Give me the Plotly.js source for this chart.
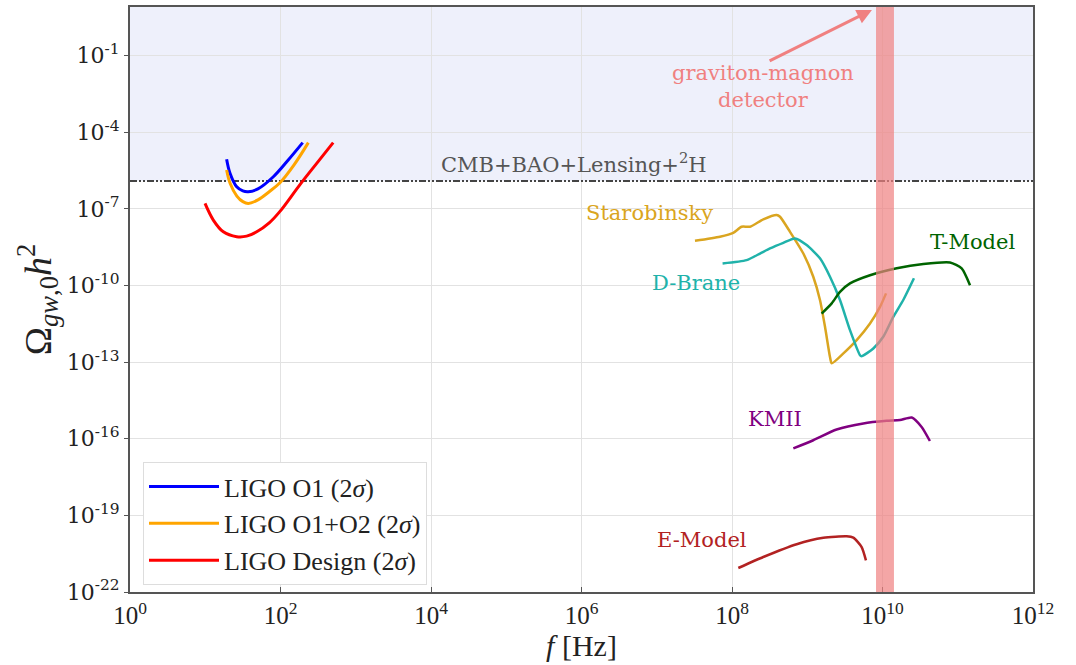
<!DOCTYPE html>
<html>
<head>
<meta charset="utf-8">
<script src="https://cdn.plot.ly/plotly-3.0.1.min.js"></script>
<style>html,body{margin:0;padding:0;background:#fff;}#chart{width:1076px;height:665px;}</style>
</head>
<body>
<div id="chart"></div>
<script>
// ---- data (log10 of frequency in Hz, log10 of Omega_gw h^2) ----
const ligoO1_logf   = [1.284, 1.329, 1.418, 1.50, 1.572, 1.70, 1.905, 2.10, 2.295];
const ligoO1_logO   = [-5.06, -5.61, -6.14, -6.30, -6.33, -6.22, -5.745, -5.10, -4.41];
const ligoO12_logf  = [1.284, 1.33, 1.42, 1.50, 1.572, 1.70, 1.85, 1.993, 2.18, 2.37];
const ligoO12_logO  = [-5.48, -6.0, -6.5, -6.72, -6.79, -6.65, -6.33, -5.98, -5.28, -4.41];
const ligoDes_logf  = [0.997, 1.107, 1.24, 1.418, 1.55, 1.684, 1.85, 1.993, 2.259, 2.481, 2.70];
const ligoDes_logO  = [-6.79, -7.44, -7.9, -8.09, -8.07, -7.9, -7.55, -7.1, -6.05, -5.22, -4.41];

const staro_logf = [7.508, 7.84, 8.017, 8.128, 8.24, 8.416, 8.593, 8.638, 8.771, 8.948, 9.08, 9.169, 9.236, 9.302, 9.325, 9.48, 9.657, 9.834, 9.967, 10.047];
const staro_logO = [-8.25, -8.09, -7.94, -7.70, -7.70, -7.41, -7.24, -7.31, -7.90, -8.75, -9.66, -10.57, -11.62, -12.8, -13.05, -12.66, -12.14, -11.49, -10.84, -10.31];
const dbrane_logf = [7.875, 8.194, 8.372, 8.505, 8.682, 8.837, 8.992, 9.169, 9.302, 9.435, 9.568, 9.701, 9.72, 9.878, 10.01, 10.143, 10.276, 10.418];
const dbrane_logO = [-9.14, -9.01, -8.75, -8.55, -8.33, -8.16, -8.42, -8.94, -9.66, -10.57, -11.75, -12.73, -12.77, -12.47, -12.01, -11.23, -10.57, -9.72];
const tmodel_logf = [9.191, 9.325, 9.435, 9.568, 9.834, 10.189, 10.543, 10.897, 11.052, 11.163];
const tmodel_logO = [-11.1, -10.70, -10.25, -9.92, -9.60, -9.33, -9.16, -9.10, -9.33, -9.99];
const kmii_logf = [8.815, 9.08, 9.39, 9.745, 10.056, 10.233, 10.388, 10.52, 10.63];
const kmii_logO = [-16.38, -16.06, -15.64, -15.40, -15.30, -15.27, -15.17, -15.54, -16.09];
const emodel_logf = [8.084, 8.416, 8.859, 9.214, 9.524, 9.612, 9.723, 9.78];
const emodel_logO = [-21.06, -20.63, -20.13, -19.88, -19.82, -19.87, -20.24, -20.76];

const cmbBound = 1.23e-6;               // CMB+BAO+Lensing+2H upper bound
const cmbFreq  = [1, 1e12];
const detectorBand = [8.2e9, 1.42e10];  // graviton-magnon detector band (Hz)

const xTickVals = [1, 1e2, 1e4, 1e6, 1e8, 1e10, 1e12];
const xTickText = ['0','2','4','6','8','10','12'].map(e => '10<sup>' + e + '</sup>');
const yTickVals = [1e-22, 1e-19, 1e-16, 1e-13, 1e-10, 1e-7, 1e-4, 1e-1];
const yTickText = ['-22','-19','-16','-13','-10','-7','-4','-1'].map(e => '10<sup>' + e + '</sup>');

const p10 = a => a.map(v => Math.pow(10, v));

function curve(lf, lo, color, width, name, legend, smooth) {
  return {x: p10(lf), y: p10(lo), type: 'scatter', mode: 'lines', name: name,
          showlegend: legend, line: {color: color, width: width, shape: 'spline', smoothing: smooth}};
}

const traces = [
  {x: cmbFreq, y: [cmbBound, cmbBound], type: 'scatter', mode: 'lines', showlegend: false,
   line: {color: '#444', width: 2, dash: '7px,2px,2px,2px,2px,2px'}},
  curve(ligoO1_logf, ligoO1_logO, '#0000ff', 3, 'LIGO O1 (2<i>σ</i>)', true, 1),
  curve(ligoO12_logf, ligoO12_logO, '#ffa500', 3, 'LIGO O1+O2 (2<i>σ</i>)', true, 1),
  curve(ligoDes_logf, ligoDes_logO, '#ff0000', 3, 'LIGO Design (2<i>σ</i>)', true, 1),
  curve(staro_logf, staro_logO, '#daa520', 2.5, 'Starobinsky', false, 0.6),
  curve(dbrane_logf, dbrane_logO, '#20b2aa', 2.5, 'D-Brane', false, 0.6),
  curve(tmodel_logf, tmodel_logO, '#006400', 2.5, 'T-Model', false, 0.6),
  curve(kmii_logf, kmii_logO, '#800080', 2.5, 'KMII', false, 0.6),
  curve(emodel_logf, emodel_logO, '#b22222', 2.5, 'E-Model', false, 0.6)
];

const annFont = (c) => ({family: 'DejaVu Serif', size: 21, color: c});
const layout = {
  width: 1076, height: 665,
  margin: {l: 130, r: 43, t: 7, b: 73},
  paper_bgcolor: '#ffffff', plot_bgcolor: '#ffffff',
  showlegend: true,
  legend: {x: 0.0144, y: 0.222, xanchor: 'left', yanchor: 'top',
           bgcolor: '#ffffff', bordercolor: '#dddddd', borderwidth: 1,
           font: {family: 'Liberation Serif', size: 26, color: '#222'},
           tracegroupgap: 0, itemwidth: 70},
  xaxis: {type: 'log', range: [0, 12], tickvals: xTickVals, ticktext: xTickText,
          tickfont: {family: 'Liberation Serif', size: 25, color: '#222'},
          ticks: 'inside', ticklen: 5, tickcolor: '#555',
          showline: true, linecolor: '#555', linewidth: 2, mirror: true,
          showgrid: true, gridcolor: '#e2e2e2', gridwidth: 1, zeroline: false,
          title: {text: '<i>f</i> [Hz]', font: {family: 'Liberation Serif', size: 30, color: '#222'}, standoff: 0}},
  yaxis: {type: 'log', range: [-22, 0.9], tickvals: yTickVals, ticktext: yTickText,
          tickfont: {family: 'DejaVu Serif', size: 22, color: '#222'},
          ticks: 'outside', ticklen: 4, tickcolor: '#555',
          showline: true, linecolor: '#555', linewidth: 2, mirror: true,
          showgrid: true, gridcolor: '#e2e2e2', gridwidth: 1, zeroline: false,
          title: {text: 'Ω<sub><i>gw</i>,0</sub><i>h</i><sup>2</sup>', font: {family: 'Liberation Serif', size: 38, color: '#222'}, standoff: 4}},
  shapes: [
    {type: 'rect', xref: 'paper', yref: 'y', x0: 0, x1: 1, y0: cmbBound, y1: Math.pow(10, 0.9),
     fillcolor: '#eef0fb', line: {width: 0}, layer: 'below'},
    {type: 'rect', xref: 'x', yref: 'paper', x0: detectorBand[0], x1: detectorBand[1], y0: 0, y1: 1,
     fillcolor: 'rgba(240,128,128,0.7)', line: {width: 0}, layer: 'above'}
  ],
  annotations: [
    {x: 6.91, y: -7.15, xref: 'x', yref: 'y', text: 'Starobinsky', showarrow: false, font: annFont('#daa520')},
    {x: 7.52, y: -9.91, xref: 'x', yref: 'y', text: 'D-Brane', showarrow: false, font: annFont('#20b2aa')},
    {x: 11.2, y: -8.3, xref: 'x', yref: 'y', text: 'T-Model', showarrow: false, font: annFont('#006400')},
    {x: 8.57, y: -15.22, xref: 'x', yref: 'y', text: 'KMII', showarrow: false, font: annFont('#800080')},
    {x: 7.60, y: -19.98, xref: 'x', yref: 'y', text: 'E-Model', showarrow: false, font: annFont('#b22222')},
    {x: 5.90, y: -5.2, xref: 'x', yref: 'y', text: 'CMB+BAO+Lensing+<sup>2</sup>H', showarrow: false, font: annFont('#555')},
    {x: 8.41, y: -2.21, xref: 'x', yref: 'y', text: 'graviton-magnon<br>detector', showarrow: false,
     font: annFont('#f08080'), align: 'center'},
    {x: 9.86, y: 0.785, xref: 'x', yref: 'y', ax: 8.48, ay: -1.24, axref: 'x', ayref: 'y',
     text: '', showarrow: true, arrowhead: 2, arrowsize: 1, arrowwidth: 3, arrowcolor: '#f08080'}
  ]
};

Plotly.newPlot('chart', traces, layout, {displayModeBar: false, staticPlot: true});
</script>
</body>
</html>
